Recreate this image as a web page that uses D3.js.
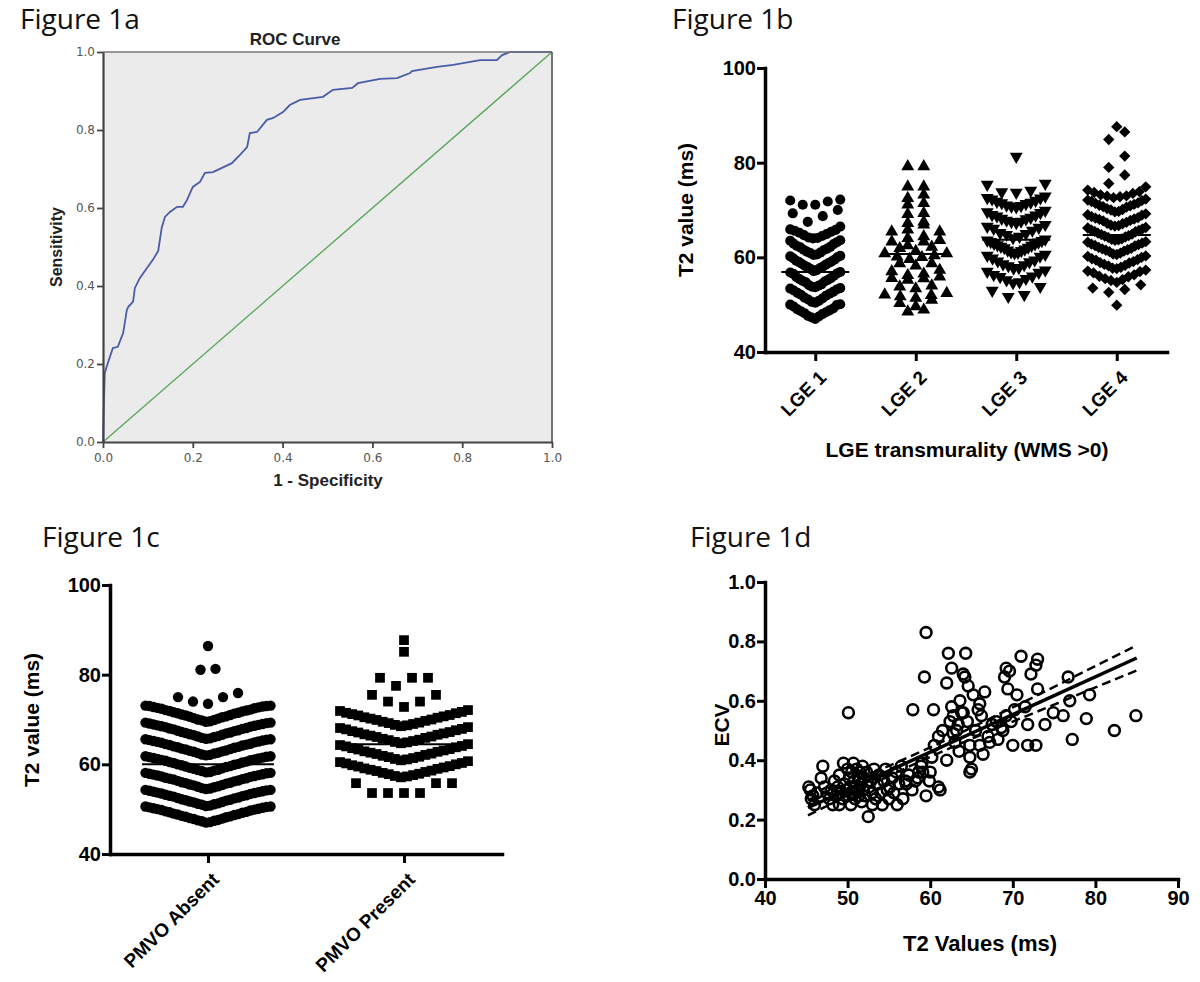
<!DOCTYPE html>
<html><head><meta charset="utf-8">
<script src="https://cdn.jsdelivr.net/npm/d3@7"></script>
<style>body{margin:0;background:#fff}svg{display:block}</style>
</head><body>
<svg id="c" width="1200" height="982"></svg>
<script>
// ================= DATA =================
// Figure 1a – ROC curve
const rocFpr=[0,0.002,0.004,0.011,0.022,0.033,0.045,0.053,0.056,0.067,0.071,0.082,0.094,0.111,0.123,0.131,0.138,0.149,0.165,0.178,0.187,0.2,0.216,0.227,0.245,0.265,0.287,0.305,0.321,0.327,0.343,0.365,0.379,0.401,0.416,0.439,0.49,0.512,0.555,0.568,0.617,0.655,0.684,0.688,0.744,0.78,0.84,0.877,0.889,0.906,1.0];
const rocTpr=[0,0.1,0.177,0.203,0.241,0.244,0.28,0.338,0.346,0.36,0.395,0.42,0.44,0.467,0.49,0.551,0.577,0.59,0.603,0.603,0.62,0.654,0.667,0.69,0.692,0.703,0.715,0.736,0.756,0.792,0.795,0.826,0.831,0.846,0.864,0.877,0.885,0.903,0.908,0.92,0.931,0.933,0.946,0.951,0.962,0.967,0.979,0.979,0.992,1.0,1.0];
const refLine=[0,1];
const rocTicks=[0,0.2,0.4,0.6,0.8,1.0];

// Figure 1b – T2 value by LGE transmurality
const lgeCategories=["LGE 1","LGE 2","LGE 3","LGE 4"];
const lge1=[72.2,71.8,71.1,71.1,72.0, 69.3,68.7,70.0,67.5,
 66.5,65.8,65.6,65.2,64.9,64.5,64.2,64.0,65.9,65.4,64.7,64.1,
 63.6,63.2,62.8,62.4,62.1,61.8,61.5,61.2,60.9,60.6,63.5,62.9,62.2,61.6,61.0,60.5,
 60.2,59.8,59.5,59.1,58.8,58.4,58.0,57.7,57.3,60.0,59.3,58.6,57.9,57.1,60.3,59.0,58.2,57.5,
 56.8,56.5,56.1,55.8,55.4,55.0,54.7,54.3,54.0,56.6,55.6,54.9,54.1,53.8,56.9,55.2,53.7,
 53.4,53.0,52.7,52.3,51.9,51.5,51.1,50.8,50.4,53.2,52.1,51.3,50.6,53.5,52.5,
 50.0,49.6,49.2,48.8,48.4,48.0,47.6,47.3,47.0,49.9,49.0,48.2,47.5,50.1,48.6];
const lge2=[79.2,79.2,74.9,74.9,73.2,72.5,71.1,71.4,69.3,69.1,67.2,67.5,66.9,65.8,65.4,65.4,64.4,63.6,64.0,63.3,63.3,62.2,61.9,62.5,60.8,60.1,60.4,60.8,60.0,59.6,58.7,58.7,58.2,57.3,57.0,56.5,55.6,55.9,55.2,55.5,53.8,53.4,54.0,52.0,52.1,51.7,51.0,51.4,50.3,52.4,49.6,48.9,48.5,56.2,61.3];
const lge3=[81.3, 75.6,75.4,73.8,73.7,74.1,
 72.9,72.6,72.3,72.0,71.8,71.6,71.3,71.0,70.8,70.6,72.5,71.5,70.9,
 69.9,69.4,69.0,68.7,68.4,68.1,67.8,67.5,67.3,69.6,68.9,68.2,67.6,
 66.9,66.5,66.1,65.7,65.2,64.8,64.4,64.1,66.3,65.0,
 63.8,63.5,63.2,62.9,62.6,62.3,62.0,61.7,61.4,61.1,60.9,63.6,62.8,62.1,61.5,61.0,63.3,62.5,
 60.6,60.2,59.8,59.4,59.0,58.6,58.2,57.8,60.4,59.2,58.4,57.7,
 57.3,56.8,56.3,55.9,55.5,55.2,54.8,57.0,56.0,54.6,
 53.8,52.1,51.7,53.0];
const lge4=[87.6,86.5,84.9,81.4,79.0,77.4,75.6,
 74.9,73.9,73.5,73.2,72.9,72.8,73.7,74.2,73.0,72.6,
 72.1,71.8,71.5,71.2,70.9,70.6,70.3,70.0,69.7,72.3,71.4,70.7,70.1,69.6,72.0,71.0,
 69.2,68.9,68.6,68.3,68.0,67.7,67.4,67.1,66.8,66.6,69.0,68.4,67.8,67.2,66.7,68.1,
 66.3,66.0,65.7,65.4,65.1,64.8,64.5,64.2,63.9,63.6,66.2,65.5,64.9,64.3,63.7,65.8,64.6,63.8,
 63.3,63.0,62.7,62.4,62.1,61.8,61.5,61.2,60.9,60.6,63.2,62.5,61.9,61.3,60.7,62.8,61.6,
 60.3,60.0,59.7,59.4,59.1,58.8,58.5,58.2,57.9,57.6,60.2,59.5,58.9,58.3,57.7,
 57.3,57.0,56.7,56.3,55.9,55.5,55.1,54.7,57.1,56.0,55.3,
 53.5,53.2,54.2,52.6,49.9];
const lgeMeans=[56.9,60.7,63.7,64.7];
const t2Ticks=[40,60,80,100];

// Figure 1c – T2 value by PMVO
const pmvoCategories=["PMVO Absent","PMVO Present"];
const pmvoAbsent=[86.4,81.3,81.1,75.9,75.0,75.0,74.0,73.5,
 69.5,69.6,69.8,69.9,70.0,70.2,70.3,70.5,70.6,70.7,70.9,71.0,71.1,71.3,71.4,71.5,71.6,71.8,71.9,72.0,72.1,72.2,72.4,72.5,72.6,72.7,72.8,72.9,73.0,73.0,73.1,73.1,
 65.7,65.8,65.9,66.1,66.2,66.3,66.5,66.6,66.7,66.9,67.0,67.1,67.2,67.4,67.5,67.6,67.8,67.9,68.0,68.1,68.3,68.4,68.5,68.6,68.7,68.8,68.9,69.0,69.1,69.2,69.3,69.3,
 62.0,62.1,62.2,62.4,62.5,62.6,62.8,62.9,63.0,63.1,63.3,63.4,63.5,63.7,63.8,63.9,64.0,64.2,64.3,64.4,64.5,64.6,64.8,64.9,65.0,65.1,65.2,65.3,65.4,65.5,65.6,65.6,
 58.2,58.3,58.5,58.6,58.7,58.8,59.0,59.1,59.2,59.4,59.5,59.6,59.8,59.9,60.0,60.1,60.3,60.4,60.5,60.6,60.8,60.9,61.0,61.1,61.2,61.3,61.4,61.5,61.6,61.7,61.8,61.8,
 54.5,54.6,54.7,54.9,55.0,55.1,55.3,55.4,55.5,55.7,55.8,55.9,56.0,56.2,56.3,56.4,56.6,56.7,56.8,56.9,57.0,57.2,57.3,57.4,57.5,57.6,57.7,57.8,57.9,58.0,58.1,58.1,
 50.7,50.8,51.0,51.1,51.2,51.3,51.5,51.6,51.7,51.9,52.0,52.1,52.2,52.4,52.5,52.6,52.8,52.9,53.0,53.1,53.2,53.4,53.5,53.6,53.7,53.8,53.9,54.0,54.1,54.2,54.3,54.3,
 47.0,47.1,47.3,47.4,47.5,47.6,47.8,47.9,48.0,48.2,48.3,48.4,48.5,48.7,48.8,48.9,49.0,49.2,49.3,49.4,49.5,49.7,49.8,49.9,50.0,50.1,50.2,50.3,50.4,50.5,50.6,50.6];
const pmvoPresent=[87.7,85.1,79.3,79.3,79.3,77.5,75.5,75.5,74.0,74.0,72.8,
 68.5,68.7,68.8,69.0,69.2,69.3,69.5,69.7,69.9,70.0,70.2,70.4,70.5,70.7,70.9,71.0,71.2,71.4,71.5,71.7,71.9,72.1,
 64.7,64.9,65.0,65.2,65.4,65.5,65.7,65.9,66.1,66.2,66.4,66.6,66.7,66.9,67.1,67.2,67.4,67.6,67.8,67.9,68.1,68.3,
 60.9,61.1,61.2,61.4,61.6,61.7,61.9,62.1,62.3,62.4,62.6,62.8,62.9,63.1,63.3,63.4,63.6,63.8,64.0,64.1,64.3,64.5,
 57.1,57.3,57.4,57.6,57.8,57.9,58.1,58.3,58.5,58.6,58.8,59.0,59.1,59.3,59.5,59.6,59.8,60.0,60.2,60.3,60.5,60.7,
 55.8,55.8,55.8,53.6,53.6,53.6,53.6];
const pmvoMeans=[60.0,64.5];

// Figure 1d – ECV vs T2
const ecvPoints=[[45.3,0.31],[45.5,0.30],[45.6,0.27],[45.8,0.28],[46.0,0.25],[46.3,0.29],[46.8,0.34],[47.0,0.38],[47.2,0.31],[47.5,0.29],[47.8,0.27],[48.0,0.30],[48.2,0.25],[48.4,0.33],[48.6,0.28],[48.8,0.31],[49.0,0.35],[49.2,0.29],[49.4,0.27],[49.5,0.39],[49.6,0.32],[49.8,0.30],[50.0,0.37],[50.1,0.28],[50.2,0.34],[50.3,0.31],[50.4,0.25],[50.5,0.36],[50.6,0.29],[50.7,0.39],[50.8,0.33],[50.9,0.27],[51.0,0.31],[51.1,0.37],[51.2,0.30],[51.3,0.34],[51.4,0.28],[51.5,0.36],[51.6,0.32],[51.7,0.26],[51.8,0.38],[51.9,0.30],[52.0,0.34],[52.1,0.28],[52.3,0.36],[52.5,0.21],[52.6,0.31],[52.8,0.33],[53.0,0.29],[53.2,0.37],[53.4,0.27],[53.6,0.32],[53.8,0.35],[54.0,0.29],[54.2,0.25],[54.4,0.33],[54.6,0.37],[54.8,0.30],[55.0,0.27],[55.1,0.31],[55.4,0.34],[55.6,0.29],[55.9,0.36],[56.2,0.32],[56.5,0.38],[56.7,0.27],[57.0,0.33],[57.1,0.32],[57.4,0.35],[57.8,0.30],[58.2,0.33],[58.6,0.36],[58.9,0.38],[59.1,0.36],[59.5,0.28],[59.9,0.33],[60.2,0.41],[61.0,0.31],[61.2,0.30],[56.0,0.25],[53.0,0.25],[49.0,0.25],[50.1,0.56],
 [57.9,0.57],[59.3,0.68],[59.5,0.83],[60.4,0.57],[62.0,0.40],[62.0,0.66],[62.2,0.76],[62.6,0.71],[62.6,0.58],[62.8,0.55],[62.8,0.49],[63.0,0.46],[63.2,0.50],[63.4,0.52],[63.8,0.56],[64.0,0.69],[64.0,0.56],[64.2,0.68],[64.3,0.76],[64.5,0.53],[64.6,0.65],[64.8,0.45],[64.8,0.41],[64.8,0.36],[65.0,0.37],[65.2,0.62],[65.5,0.50],[66.0,0.59],[66.0,0.45],[66.4,0.42],[66.6,0.63],[67.0,0.48],[67.5,0.52],[68.2,0.47],[68.6,0.51],[69.0,0.68],[69.2,0.71],[69.2,0.55],[69.4,0.64],[69.6,0.70],[69.8,0.53],[70.0,0.45],[70.2,0.57],[71.0,0.75],[71.8,0.52],[71.8,0.45],[72.2,0.69],[72.8,0.72],[72.8,0.45],[73.0,0.74],[73.0,0.64],[73.9,0.52],[74.9,0.56],[76.1,0.55],[76.7,0.68],[76.9,0.60],[77.2,0.47],[78.9,0.54],[79.3,0.62],[82.3,0.50],[84.9,0.55],[68.0,0.53],[68.8,0.50],[67.2,0.46],[66.2,0.55],[63.5,0.43],[61.5,0.50],[61.0,0.48],[60.5,0.45],[60.0,0.36],[59.0,0.39],[58.5,0.34],[70.5,0.62],[71.5,0.58],[65.8,0.57],[62.4,0.53],[63.6,0.60]];
const fitX=[45.2,85.0];
const fitY=[0.240,0.744];
const ciX=[45.2,50,55,60,65,70,75,80,85];
const ciUpper=[0.266,0.322,0.381,0.443,0.510,0.578,0.647,0.717,0.786];
const ciLower=[0.214,0.280,0.347,0.411,0.472,0.530,0.587,0.645,0.702];
const ecvTicks=[0,0.2,0.4,0.6,0.8,1.0];
const t2xTicks=[40,50,60,70,80,90];

// ================= DRAWING =================
const svg=d3.select("#c");
const FIG="'Open Sans', sans-serif";
const ARIAL="'Liberation Sans', Arial, sans-serif";

function figLabel(x,y,t){svg.append("text").attr("x",x).attr("y",y).attr("font-family",FIG).attr("font-size",28).attr("fill","#111").text(t);}
figLabel(20,29,"Figure 1a");
figLabel(672,29,"Figure 1b");
figLabel(42,547,"Figure 1c");
figLabel(690,547,"Figure 1d");

// ---------- 1a ----------
(function(){
  const x=d3.scaleLinear([0,1],[103,552]);
  const y=d3.scaleLinear([0,1],[442,52]);
  const g=svg.append("g");
  g.append("rect").attr("x",x(0)).attr("y",y(1)).attr("width",x(1)-x(0)).attr("height",y(0)-y(1)).attr("fill","#ebebeb");
  g.append("path").datum(refLine).attr("d",d3.line().x(d=>x(d)).y(d=>y(d))).attr("stroke","#5aa95a").attr("stroke-width",1.4).attr("fill","none");
  g.append("path").datum(d3.zip(rocFpr,rocTpr)).attr("d",d3.line().x(d=>x(d[0])).y(d=>y(d[1]))).attr("stroke","#4a5ca6").attr("stroke-width",1.8).attr("fill","none");
  // frame
  g.append("line").attr("x1",x(0)).attr("x2",x(1)).attr("y1",y(1)).attr("y2",y(1)).attr("stroke","#777").attr("stroke-width",1.6);
  g.append("line").attr("x1",x(1)).attr("x2",x(1)).attr("y1",y(1)).attr("y2",y(0)).attr("stroke","#666").attr("stroke-width",1.8);
  const ax=g.append("g").attr("transform",`translate(0,${y(0)})`).call(d3.axisBottom(x).tickValues(rocTicks).tickFormat(d3.format(".1f")).tickSize(6).tickSizeOuter(0).tickPadding(5));
  const ay=g.append("g").attr("transform",`translate(${x(0)},0)`).call(d3.axisLeft(y).tickValues(rocTicks).tickFormat(d3.format(".1f")).tickSize(6).tickSizeOuter(0).tickPadding(2));
  [ax,ay].forEach(a=>{a.select(".domain").attr("stroke","#444").attr("stroke-width",2.2);
    a.selectAll(".tick line").attr("stroke","#444").attr("stroke-width",1.8);
    a.selectAll(".tick text").attr("font-family","'DejaVu Sans',sans-serif").attr("font-size",12).attr("fill","#555");});
  g.append("text").attr("x",295).attr("y",45).attr("text-anchor","middle").attr("font-family",ARIAL).attr("font-weight","bold").attr("font-size",17).attr("fill","#222").text("ROC Curve");
  g.append("text").attr("x",328).attr("y",486).attr("text-anchor","middle").attr("font-family",ARIAL).attr("font-weight","bold").attr("font-size",17).attr("fill","#222").text("1 - Specificity");
  g.append("text").attr("transform",`translate(62,${(y(0)+y(1))/2}) rotate(-90)`).attr("text-anchor","middle").attr("font-family",ARIAL).attr("font-weight","bold").attr("font-size",16).attr("fill","#222").text("Sensitivity");
})();

// ---------- swarm layout ----------
function swarm(values,opt){
  const bins=d3.group(values,v=>Math.floor((v-opt.base)/opt.binW));
  const out=[];
  for(const [,arr] of bins){
    const s=arr.slice().sort(d3.ascending);
    const n=s.length;
    const step=n>1?Math.min(opt.maxStep,opt.maxWidth/(n-1)):0;
    const slots=d3.range(n).map(i=>(i-(n-1)/2)*step);
    slots.sort((a,b)=>Math.abs(a)-Math.abs(b)||a-b);
    s.forEach((v,i)=>out.push({v,dx:slots[i]}));
  }
  return out;
}
function prismAxes(g,x,y,yTicks,yFmt,xRange){
  const ay=g.append("g").attr("transform",`translate(${xRange[0]},0)`).call(d3.axisLeft(y).tickValues(yTicks).tickFormat(yFmt).tickSize(8).tickSizeOuter(0).tickPadding(1));
  const ax=g.append("g").attr("transform",`translate(0,${y.range()[0]})`).call(d3.axisBottom(x).tickSize(9).tickSizeOuter(0).tickPadding(4));
  [ax,ay].forEach(a=>{a.select(".domain").attr("stroke","#000").attr("stroke-width",3.5).attr("stroke-linecap","square");
    a.selectAll(".tick line").attr("stroke","#000").attr("stroke-width",3);
    a.selectAll(".tick text").attr("font-family",ARIAL).attr("font-weight","bold").attr("font-size",20).attr("fill","#000");});
  return ax;
}
function rotLabels(ax){
  ax.selectAll(".tick text").remove();
  ax.selectAll(".tick").append("text").attr("transform","translate(7,22) rotate(-45)").attr("text-anchor","end").attr("dy","0.35em")
    .attr("font-family",ARIAL).attr("font-weight","bold").attr("font-size",19).attr("fill","#000").text(d=>d);
}

// ---------- 1b ----------
(function(){
  const y=d3.scaleLinear([40,100],[352,68]);
  const x=d3.scalePoint(lgeCategories,[765,1167]).padding(0.5);
  const g=svg.append("g");
  const groups=[lge1,lge2,lge3,lge4];
  const opts=[{base:46.8,binW:3.4,maxStep:15,maxWidth:50},{base:48.0,binW:1.6,maxStep:16,maxWidth:62},{base:51.2,binW:3.2,maxStep:16,maxWidth:58},{base:48.5,binW:3.0,maxStep:16,maxWidth:58}];
  const syms=[[d3.symbolCircle,80,0],[d3.symbolTriangle,72,0],[d3.symbolTriangle,72,180],[d3.symbolSquare,64,45]];
  groups.forEach((vals,i)=>{
    const cx=x(lgeCategories[i]);
    const p=d3.symbol(syms[i][0],syms[i][1])();
    g.append("g").selectAll("path").data(swarm(vals,opts[i])).join("path").attr("d",p)
      .attr("transform",d=>`translate(${cx+d.dx},${y(d.v)}) rotate(${syms[i][2]})`).attr("fill","#000");
    g.append("line").attr("x1",cx-34).attr("x2",cx+34).attr("y1",y(lgeMeans[i])).attr("y2",y(lgeMeans[i])).attr("stroke","#000").attr("stroke-width",2);
  });
  const ax=prismAxes(g,x,y,t2Ticks,d3.format("d"),[765,1167]);
  rotLabels(ax);
  g.append("text").attr("transform","translate(686,210) rotate(-90)").attr("text-anchor","middle").attr("dy","0.35em").attr("font-family",ARIAL).attr("font-weight","bold").attr("font-size",21).text("T2 value (ms)");
  g.append("text").attr("x",967).attr("y",457).attr("text-anchor","middle").attr("font-family",ARIAL).attr("font-weight","bold").attr("font-size",21).text("LGE transmurality (WMS >0)");
})();

// ---------- 1c ----------
(function(){
  const y=d3.scaleLinear([40,100],[854,585]);
  const x=d3.scalePoint(pmvoCategories,[110,502]).padding(0.5);
  const g=svg.append("g");
  const groups=[pmvoAbsent,pmvoPresent];
  const opts=[{base:46.9,binW:3.75,maxStep:15,maxWidth:125},{base:53.2,binW:3.8,maxStep:16,maxWidth:128}];
  const syms=[[d3.symbolCircle,85],[d3.symbolSquare,95]];
  groups.forEach((vals,i)=>{
    const cx=x(pmvoCategories[i]);
    const p=d3.symbol(syms[i][0],syms[i][1])();
    g.append("g").selectAll("path").data(swarm(vals,opts[i])).join("path").attr("d",p)
      .attr("transform",d=>`translate(${cx+d.dx},${y(d.v)})`).attr("fill","#000");
    g.append("line").attr("x1",cx-66).attr("x2",cx+66).attr("y1",y(pmvoMeans[i])).attr("y2",y(pmvoMeans[i])).attr("stroke","#000").attr("stroke-width",2);
  });
  const ax=prismAxes(g,x,y,t2Ticks,d3.format("d"),[110,502]);
  rotLabels(ax);
  g.append("text").attr("transform","translate(32,720) rotate(-90)").attr("text-anchor","middle").attr("dy","0.35em").attr("font-family",ARIAL).attr("font-weight","bold").attr("font-size",21).text("T2 value (ms)");
})();

// ---------- 1d ----------
(function(){
  const x=d3.scaleLinear([40,90],[765,1178]);
  const y=d3.scaleLinear([0,1],[879,582]);
  const g=svg.append("g");
  g.append("g").selectAll("circle").data(ecvPoints).join("circle").attr("cx",d=>x(d[0])).attr("cy",d=>y(d[1])).attr("r",5.4)
    .attr("fill","none").attr("stroke","#000").attr("stroke-width",2.6);
  const line=d3.line().curve(d3.curveMonotoneX).x(d=>x(d[0])).y(d=>y(d[1]));
  g.append("path").datum(d3.zip(ciX,ciUpper)).attr("d",line).attr("fill","none").attr("stroke","#000").attr("stroke-width",2.5).attr("stroke-dasharray","9,5");
  g.append("path").datum(d3.zip(ciX,ciLower)).attr("d",line).attr("fill","none").attr("stroke","#000").attr("stroke-width",2.5).attr("stroke-dasharray","9,5");
  g.append("path").datum(d3.zip(fitX,fitY)).attr("d",line).attr("fill","none").attr("stroke","#000").attr("stroke-width",3.5);
  const ay=g.append("g").attr("transform",`translate(${x(40)},0)`).call(d3.axisLeft(y).tickValues(ecvTicks).tickFormat(d3.format(".1f")).tickSize(8).tickSizeOuter(0).tickPadding(1));
  const ax=g.append("g").attr("transform",`translate(0,${y(0)})`).call(d3.axisBottom(x).tickValues(t2xTicks).tickFormat(d3.format("d")).tickSize(9).tickSizeOuter(0).tickPadding(3));
  [ax,ay].forEach(a=>{a.select(".domain").attr("stroke","#000").attr("stroke-width",3.5).attr("stroke-linecap","square");
    a.selectAll(".tick line").attr("stroke","#000").attr("stroke-width",3);
    a.selectAll(".tick text").attr("font-family",ARIAL).attr("font-weight","bold").attr("font-size",20).attr("fill","#000");});
  g.append("text").attr("transform","translate(722,725) rotate(-90)").attr("text-anchor","middle").attr("dy","0.35em").attr("font-family",ARIAL).attr("font-weight","bold").attr("font-size",21).text("ECV");
  g.append("text").attr("x",980).attr("y",951).attr("text-anchor","middle").attr("font-family",ARIAL).attr("font-weight","bold").attr("font-size",22).text("T2 Values (ms)");
})();
</script>
</body></html>
